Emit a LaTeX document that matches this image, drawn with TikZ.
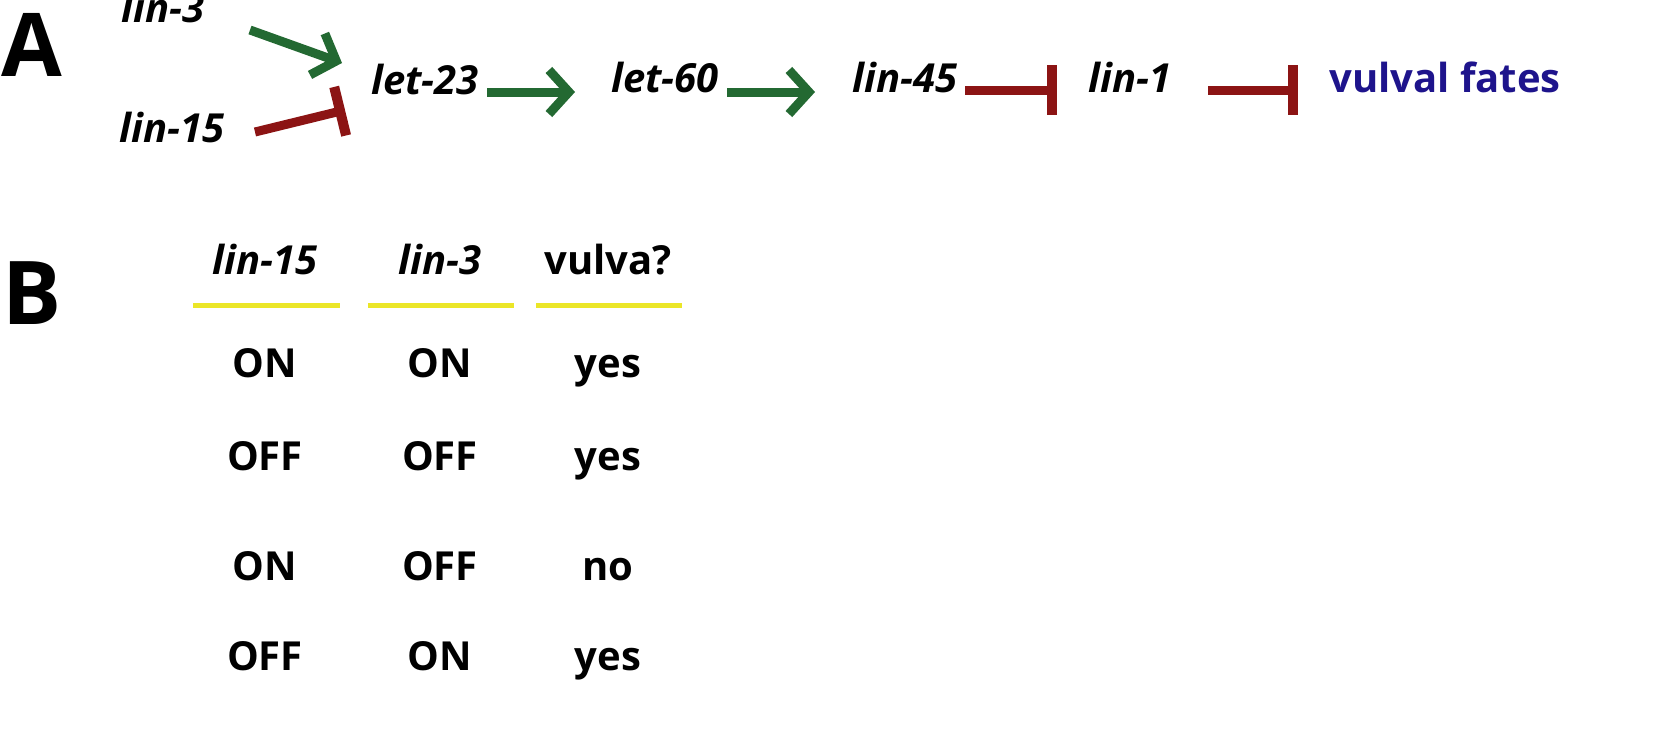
\documentclass[tikz,border=0pt]{standalone}
\usepackage{fontspec}
\setmainfont{Open Sans}
\usetikzlibrary{arrows.meta}
\definecolor{grn}{RGB}{35,105,50}
\definecolor{rd}{RGB}{140,20,20}
\definecolor{blu}{RGB}{30,20,140}
\definecolor{yel}{RGB}{235,230,40}
\begin{document}
\begin{tikzpicture}[x=1pt,y=-1pt,
  gene/.style={font=\fontsize{40}{44}\selectfont\bfseries\itshape,inner sep=0pt,text height=0.74em,text depth=0.22em},
  cell/.style={font=\fontsize{40}{44}\selectfont\bfseries,inner sep=0pt,text height=0.74em,text depth=0.22em},
  lbl/.style={font=\fontsize{88}{90}\selectfont\bfseries,inner sep=0pt},
  act/.style={grn,line width=9pt,-{Straight Barb[length=20pt,width=44pt,line width=9pt]}},
  inh/.style={rd,line width=9pt,-{Bar[width=50pt,line width=10pt]}},
  uline/.style={yel,line width=5pt}]
\useasboundingbox (0,0) rectangle (1671,742);
\node[lbl] (A) at (32,45) {A};
\node[lbl] (B) at (32,293) {B};
\node[gene] (lin3) at (163,20) {lin-3};
\node[gene] (lin15) at (172,140) {lin-15};
\node[gene] (let23) at (425,92) {let-23};
\node[gene] (let60) at (665,90) {let-60};
\node[gene] (lin45) at (905,90) {lin-45};
\node[gene] (lin1) at (1130,90) {lin-1};
\node[cell,text=blu] (vf) at (1445,90) {vulval fates};
\coordinate (a1s) at (250,30); \coordinate (a1e) at (342,63);
\draw[act] (a1s) -- (a1e);
\coordinate (i1s) at (255,132); \coordinate (i1e) at (345,110);
\draw[inh] (i1s) -- (i1e);
\draw[act] (487,92) coordinate (x1) -- (575,92) coordinate (x2);
\draw[act] (727,92) coordinate (x3) -- (815,92) coordinate (x4);
\draw[inh] (965,90) coordinate (x5) -- (1057,90) coordinate (x6);
\draw[inh] (1208,90) coordinate (x7) -- (1298,90) coordinate (x8);
\node[gene] (h1) at (265,272) {lin-15};
\node[gene] (h2) at (440,272) {lin-3};
\node[cell] (h3) at (608,272) {vulva?};
\draw[uline] (193,305) coordinate (u1) -- (340,305) coordinate (u2);
\draw[uline] (368,305) coordinate (u3) -- (514,305) coordinate (u4);
\draw[uline] (536,305) coordinate (u5) -- (682,305) coordinate (u6);
\foreach \y/\a/\b/\c [count=\i] in {375/ON/ON/yes,468/OFF/OFF/yes,578/ON/OFF/no,668/OFF/ON/yes}{
  \node[cell] (r\i a) at (265,\y) {\a};
  \node[cell] (r\i b) at (440,\y) {\b};
  \node[cell] (r\i c) at (608,\y) {\c};
}
\end{tikzpicture}
\end{document}
